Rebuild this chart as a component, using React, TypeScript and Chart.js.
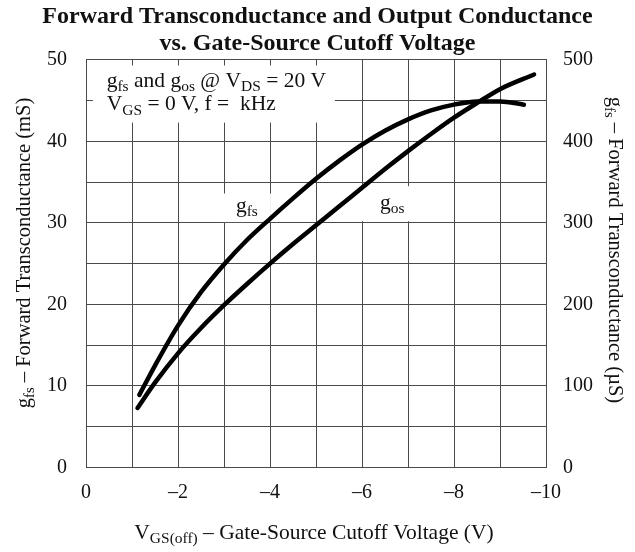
import React, { useEffect, useRef } from 'react';
import { Chart, registerables } from 'chart.js';

Chart.register(...registerables);

// ---- data ----
const titleLines = ['Forward Transconductance and Output Conductance', 'vs. Gate-Source Cutoff Voltage'];

const vgsGfs = [-1.16, -1.5, -2, -2.5, -3, -3.5, -4, -4.5, -5, -5.5, -6, -6.5, -7, -7.5, -8, -8.5, -9, -9.52];
const gfsValues = [8.9, 12.5, 17.4, 21.5, 24.9, 27.9, 30.5, 33.0, 35.4, 37.6, 39.6, 41.3, 42.7, 43.8, 44.5, 44.9, 44.9, 44.5];

const vgsGos = [-1.12, -1.5, -2, -2.5, -3, -3.5, -4, -4.5, -5, -5.5, -6, -6.5, -7, -7.5, -8, -8.5, -9, -9.74];
const gosValues = [73, 104, 140, 171, 199, 225, 250, 274, 297, 320, 343, 366, 388, 409, 429, 447, 464, 482];

const xMin = -10;
const xMax = 0;
const yLeftMax = 50;
const yRightMax = 500;

type Seg = { t: string; sub?: boolean };
const leftAxisTitle: Seg[] = [{ t: 'g' }, { t: 'fs', sub: true }, { t: ' – Forward Transconductance (mS)' }];
const rightAxisTitle: Seg[] = [{ t: 'g' }, { t: 'fs', sub: true }, { t: ' – Forward Transconductance (µS)' }];
const xAxisTitle: Seg[] = [{ t: 'V' }, { t: 'GS(off)', sub: true }, { t: ' – Gate-Source Cutoff Voltage (V)' }];
const noteLine1: Seg[] = [{ t: 'g' }, { t: 'fs', sub: true }, { t: ' and g' }, { t: 'os', sub: true }, { t: ' @ V' }, { t: 'DS', sub: true }, { t: ' = 20 V' }];
const noteLine2: Seg[] = [{ t: 'V' }, { t: 'GS', sub: true }, { t: ' = 0 V, f =  kHz' }];
const gfsLabel: Seg[] = [{ t: 'g' }, { t: 'fs', sub: true }];
const gosLabel: Seg[] = [{ t: 'g' }, { t: 'os', sub: true }];

// annotation placement in data units (V, mS)
const noteBox = { x0: -0.15, x1: -5.41, y0: 49.3, y1: 42.3 };
const noteText = { x: -0.45, y1: 46.67, y2: 43.8 };
const gfsBox = { x0: -2.98, x1: -4.02, y0: 33.6, y1: 30.1 };
const gfsText = { x: -3.26, y: 31.35 };
const gosBox = { x0: -5.85, x1: -7.7, y0: 34.5, y1: 30.2 };
const gosText = { x: -6.39, y: 31.7 };

const FAMILY = "'Liberation Serif', 'Times New Roman', serif";
const INK = '#111';
const GRID = '#4a4a4a';

function fontStr(size: number, bold = false) {
  return `${bold ? 'bold ' : ''}${size}px ${FAMILY}`;
}

function richWidth(ctx: CanvasRenderingContext2D, segs: Seg[], size: number) {
  let w = 0;
  for (const s of segs) {
    ctx.font = fontStr(s.sub ? size * 0.72 : size);
    w += ctx.measureText(s.t).width;
  }
  return w;
}

function drawRich(ctx: CanvasRenderingContext2D, segs: Seg[], x: number, y: number, size: number, align: 'left' | 'center') {
  const w = richWidth(ctx, segs, size);
  let cx = align === 'center' ? x - w / 2 : x;
  ctx.textAlign = 'left';
  ctx.textBaseline = 'alphabetic';
  for (const s of segs) {
    const sz = s.sub ? size * 0.72 : size;
    ctx.font = fontStr(sz);
    ctx.fillText(s.t, cx, s.sub ? y + size * 0.2 : y);
    cx += ctx.measureText(s.t).width;
  }
}

const annotationPlugin = {
  id: 'datasheetAnnotations',
  beforeDatasetsDraw(chart: any) {
    const { ctx, scales } = chart;
    const xs = scales.x;
    const ys = scales.y;
    ctx.save();
    ctx.fillStyle = '#ffffff';
    for (const b of [noteBox, gfsBox, gosBox]) {
      const px0 = xs.getPixelForValue(b.x0);
      const px1 = xs.getPixelForValue(b.x1);
      const py0 = ys.getPixelForValue(b.y0);
      const py1 = ys.getPixelForValue(b.y1);
      ctx.fillRect(Math.min(px0, px1), Math.min(py0, py1), Math.abs(px1 - px0), Math.abs(py1 - py0));
    }
    ctx.restore();
  },
  afterDraw(chart: any) {
    const { ctx, scales, chartArea } = chart;
    const xs = scales.x;
    const ys = scales.y;
    ctx.save();
    ctx.fillStyle = INK;
    // note box text
    drawRich(ctx, noteLine1, xs.getPixelForValue(noteText.x), ys.getPixelForValue(noteText.y1), 21.5, 'left');
    drawRich(ctx, noteLine2, xs.getPixelForValue(noteText.x), ys.getPixelForValue(noteText.y2), 21.5, 'left');
    // curve labels
    drawRich(ctx, gfsLabel, xs.getPixelForValue(gfsText.x), ys.getPixelForValue(gfsText.y), 21.5, 'left');
    drawRich(ctx, gosLabel, xs.getPixelForValue(gosText.x), ys.getPixelForValue(gosText.y), 21.5, 'left');
    // x axis title
    drawRich(ctx, xAxisTitle, (chartArea.left + chartArea.right) / 2 - 2, 539, 21.5, 'center');
    // left axis title
    ctx.save();
    ctx.translate(30, 253);
    ctx.rotate(-Math.PI / 2);
    drawRich(ctx, leftAxisTitle, 0, 0, 20.5, 'center');
    ctx.restore();
    // right axis title
    ctx.save();
    ctx.translate(609, 250);
    ctx.rotate(Math.PI / 2);
    drawRich(ctx, rightAxisTitle, 0, 0, 20.5, 'center');
    ctx.restore();
    ctx.restore();
  },
};

export default function App() {
  const canvasRef = useRef<HTMLCanvasElement | null>(null);

  useEffect(() => {
    document.body.style.margin = '0';
    const canvas = canvasRef.current;
    if (!canvas) return;
    const chart = new Chart(canvas, {
      type: 'line',
      data: {
        datasets: [
          {
            label: 'gfs',
            data: vgsGfs.map((v, i) => ({ x: v, y: gfsValues[i] })),
            borderColor: '#000',
            borderWidth: 4.5,
            pointRadius: 0,
            cubicInterpolationMode: 'monotone',
            borderCapStyle: 'round',
            borderJoinStyle: 'round',
            yAxisID: 'y',
          },
          {
            label: 'gos',
            data: vgsGos.map((v, i) => ({ x: v, y: gosValues[i] })),
            borderColor: '#000',
            borderWidth: 4.5,
            pointRadius: 0,
            cubicInterpolationMode: 'monotone',
            borderCapStyle: 'round',
            borderJoinStyle: 'round',
            yAxisID: 'y2',
          },
        ],
      },
      options: {
        responsive: false,
        animation: false,
        devicePixelRatio: 1,
        layout: { padding: { left: 0, right: 0, top: 0, bottom: 0 } },
        plugins: {
          legend: { display: false },
          tooltip: { enabled: false },
          title: {
            display: true,
            text: titleLines,
            color: INK,
            font: { family: FAMILY, size: 24, weight: 'bold', lineHeight: 1.1 },
            padding: { top: 4, bottom: 3 },
          },
        },
        scales: {
          x: {
            type: 'linear',
            min: xMin,
            max: xMax,
            reverse: true,
            afterFit: (s: any) => { s.height = 84.5; },
            grid: { color: GRID, lineWidth: 1, drawTicks: false },
            border: { color: GRID, width: 1 },
            ticks: {
              stepSize: 1,
              autoSkip: false,
              maxRotation: 0,
              padding: 13,
              color: INK,
              font: { family: FAMILY, size: 20 },
              callback: (v: any) => (Math.round(v) % 2 === 0 ? (v === 0 ? '0' : '–' + Math.abs(v)) : ''),
            },
          },
          y: {
            type: 'linear',
            position: 'left',
            min: 0,
            max: yLeftMax,
            afterFit: (s: any) => { s.width = 86; },
            grid: { color: GRID, lineWidth: 1, drawTicks: false },
            border: { color: GRID, width: 1 },
            ticks: {
              stepSize: 5,
              autoSkip: false,
              padding: 19,
              color: INK,
              font: { family: FAMILY, size: 20 },
              callback: (v: any) => (v % 10 === 0 ? String(v) : ''),
            },
          },
          y2: {
            type: 'linear',
            position: 'right',
            min: 0,
            max: yRightMax,
            afterFit: (s: any) => { s.width = 89; },
            grid: { drawOnChartArea: false, drawTicks: false },
            border: { color: GRID, width: 1 },
            ticks: {
              stepSize: 50,
              autoSkip: false,
              padding: 17,
              color: INK,
              font: { family: FAMILY, size: 20 },
              callback: (v: any) => (v % 100 === 0 ? String(v) : ''),
            },
          },
        },
      },
      plugins: [annotationPlugin],
    } as any);
    return () => chart.destroy();
  }, []);

  return (
    <div style={{ position: 'absolute', left: 0, top: 0, width: 635, height: 552, background: '#fff' }}>
      <canvas ref={canvasRef} width={635} height={552} style={{ width: 635, height: 552, display: 'block' }} />
    </div>
  );
}
